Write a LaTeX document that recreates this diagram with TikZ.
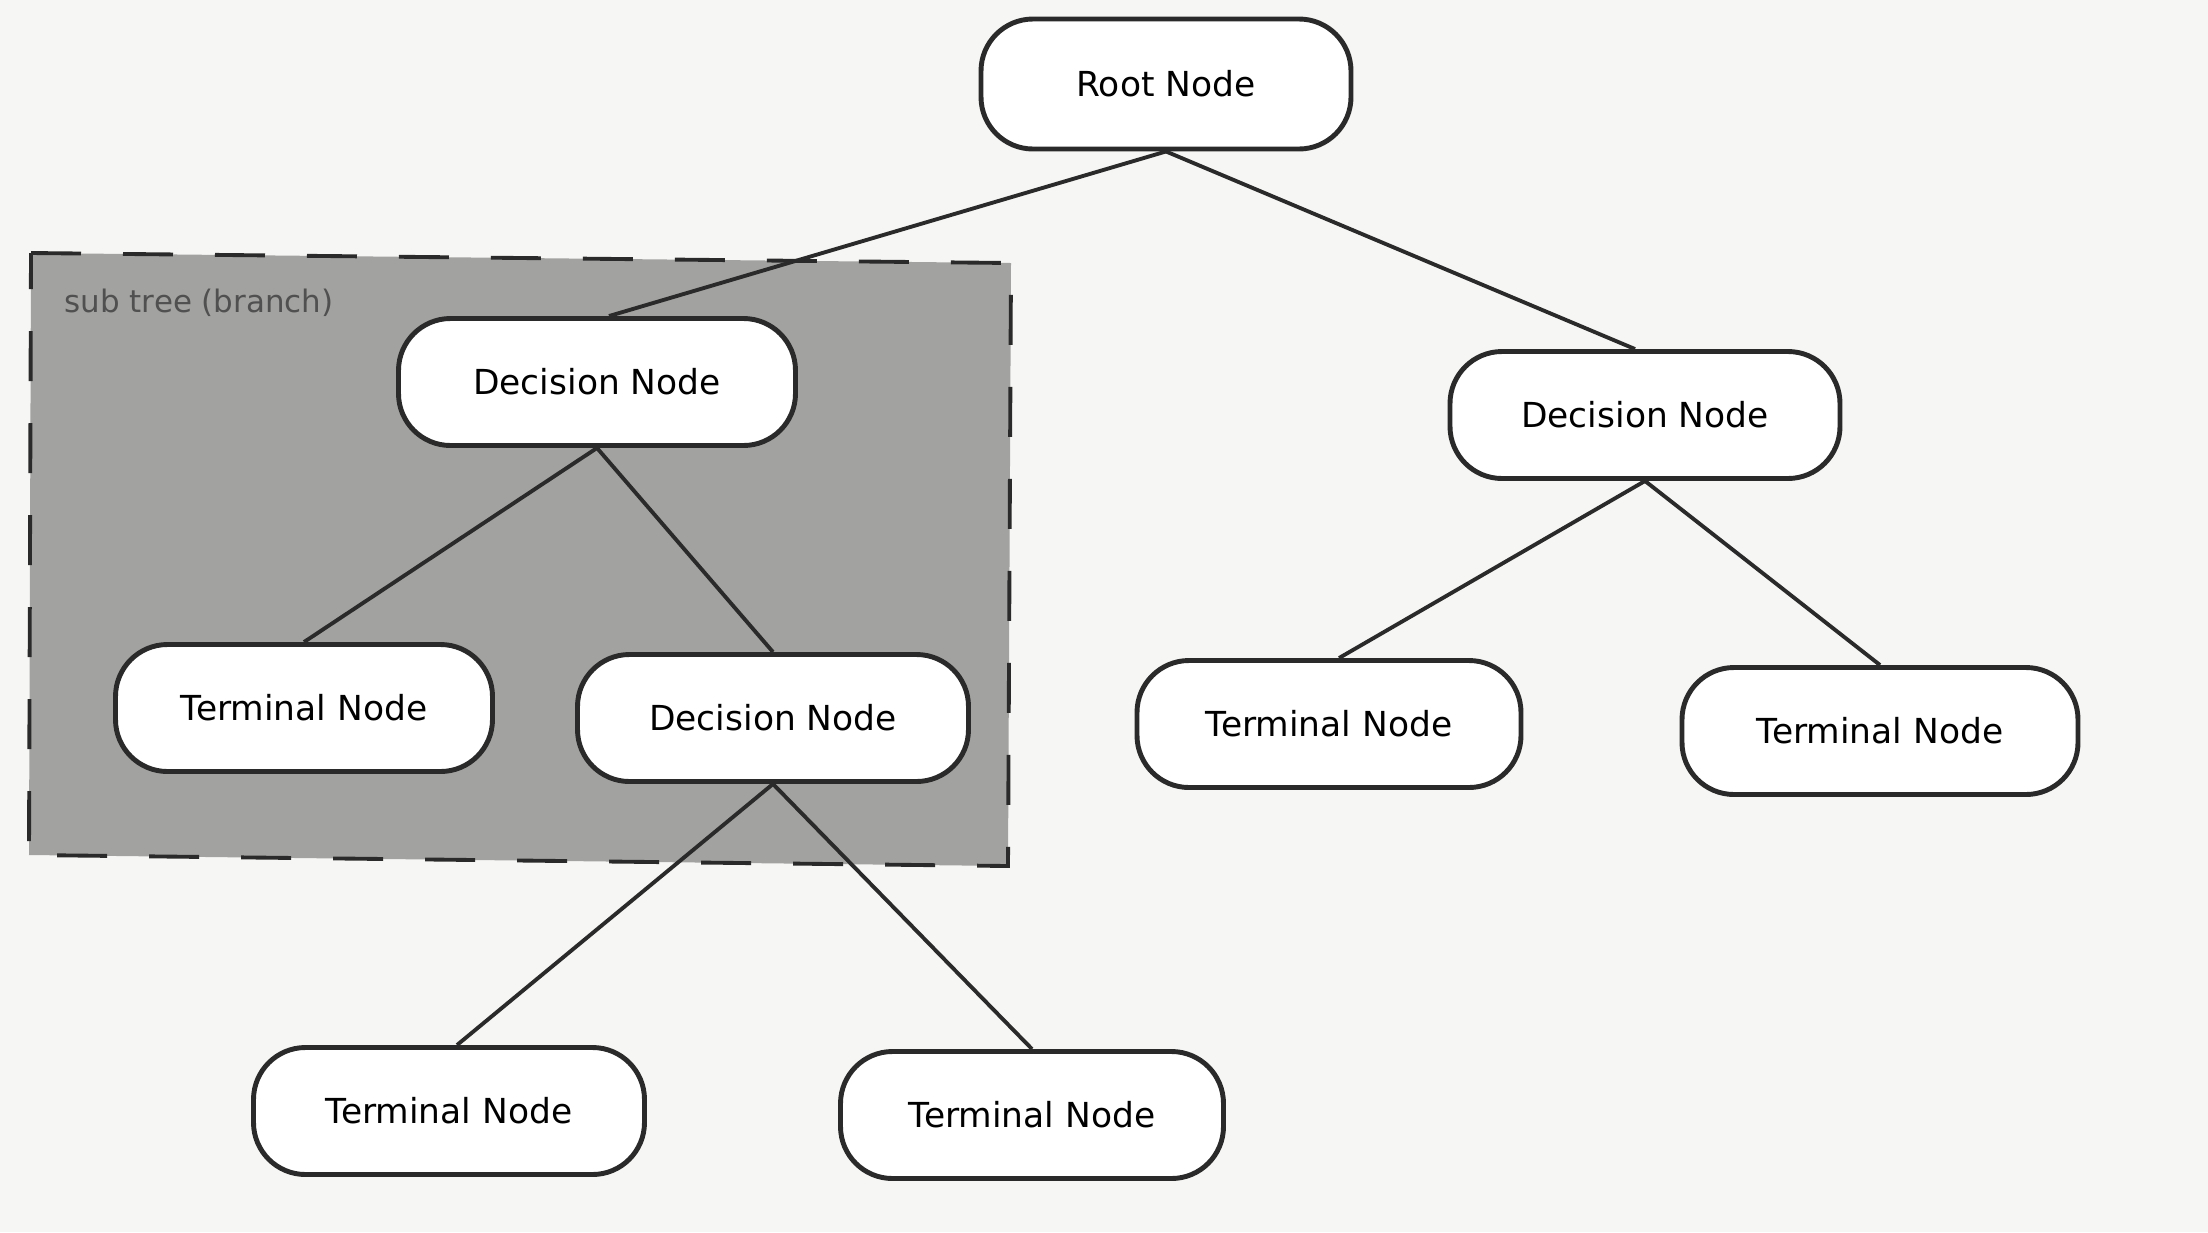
\documentclass[tikz,border=0pt]{standalone}
\usepackage{fontspec}
\setsansfont{DejaVu Sans}
\usetikzlibrary{positioning}
\definecolor{pageFill}{HTML}{f6f6f4}
\definecolor{branchFill}{HTML}{a2a2a0}
\definecolor{inkLine}{HTML}{2a2a2a}
\definecolor{labelInk}{HTML}{505050}
\def\nodeW{3.85}
\def\nodeH{1.27}

\begin{document}
\begin{tikzpicture}[x=1cm, y=1cm,
                    font=\sffamily,
                    treenode/.style={rectangle, rounded corners=0.52cm,
                        draw=inkLine, line width=1.4pt, fill=white,
                        minimum width=\nodeW cm, minimum height=\nodeH cm,
                        font=\sffamily\fontsize{9.8}{12}\selectfont},
                    edge/.style={draw=inkLine, line width=1.1pt}]

    % ==========================================================
    % 1. PAGE
    % ==========================================================
    \fill[pageFill] (0,0) rectangle (22.08,-12.32);

    % ==========================================================
    % 2. SUB TREE (BRANCH) BOX
    % ==========================================================
    \coordinate (boxTL) at (0.31, -2.53);
    \coordinate (boxTR) at (10.11,-2.63);
    \coordinate (boxBR) at (10.08,-8.66);
    \coordinate (boxBL) at (0.29, -8.55);
    \filldraw[fill=branchFill, draw=inkLine, line width=1.1pt,
              dash pattern=on 0.5cm off 0.42cm]
        (boxTL) -- (boxTR) -- (boxBR) -- (boxBL) -- cycle;
    \node[anchor=west, inner sep=0pt, text=labelInk,
          font=\sffamily\fontsize{8.8}{10}\selectfont]
        (branchLbl) at (0.64, -3.03) {sub tree (branch)};

    % ==========================================================
    % 3. NODES
    % ==========================================================
    \node[treenode, minimum width=3.7cm, minimum height=1.3cm]
        (root) at (11.66,-0.84) {Root Node};
    \node[treenode, minimum width=3.97cm] (decL) at (5.97,-3.82) {Decision Node};
    \node[treenode, minimum width=3.9cm]  (decR) at (16.45,-4.15) {Decision Node};
    \node[treenode, minimum width=3.77cm] (termL) at (3.04,-7.08) {Terminal Node};
    \node[treenode, minimum width=3.91cm] (decM) at (7.73,-7.18) {Decision Node};
    \node[treenode, minimum width=3.84cm] (termRa) at (13.29,-7.24) {Terminal Node};
    \node[treenode, minimum width=3.96cm] (termRb) at (18.80,-7.31) {Terminal Node};
    \node[treenode, minimum width=3.91cm] (termBa) at (4.49,-11.11) {Terminal Node};
    \node[treenode, minimum width=3.83cm] (termBb) at (10.32,-11.15) {Terminal Node};

    % ==========================================================
    % 4. EDGES
    % ==========================================================
    \draw[edge] (root.south) -- ([xshift=0.12cm]decL.north);
    \draw[edge] (root.south) -- ([xshift=-0.1cm]decR.north);
    \draw[edge] (decL.south) -- (termL.north);
    \draw[edge] (decL.south) -- (decM.north);
    \draw[edge] (decR.south) -- ([xshift=0.1cm]termRa.north);
    \draw[edge] (decR.south) -- (termRb.north);
    \draw[edge] (decM.south) -- ([xshift=0.08cm]termBa.north);
    \draw[edge] (decM.south) -- (termBb.north);

\end{tikzpicture}
\end{document}
